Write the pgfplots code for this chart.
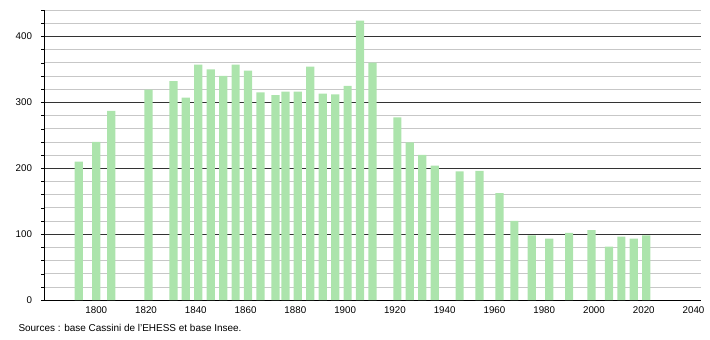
\documentclass[border=0pt]{standalone}
\usepackage{pgfplots}
\pgfplotsset{compat=1.18}
\usepackage{fontspec}
\setmainfont{Liberation Sans}
\definecolor{barg}{RGB}{172,228,172}
\begin{document}
\begin{tikzpicture}
\useasboundingbox (0,0) rectangle (710bp,340bp);
\begin{axis}[
  at={(44bp,40bp)}, anchor=south west,
  width=657bp, height=290bp, scale only axis,
  xmin=1779, xmax=2043, ymin=0, ymax=440,
  axis lines=left, axis line style={-, black},
  xtick={1800,1820,...,2040},
  ytick={0,100,...,400},
  minor ytick={20,40,...,440},
  xtick style={draw=none},
  ytick style={black},
  minor tick style={black},
  tick align=outside,
  major tick length=2.5bp, minor tick length=2.5bp,
  ymajorgrids, yminorgrids,
  major grid style={black!80, line width=0.5pt},
  minor grid style={black!22, line width=0.5pt},
  tick label style={font=\fontsize{9.8}{11}\selectfont},
  /pgf/number format/assume math mode=true,
  /pgf/number format/1000 sep={},
  xticklabel style={yshift=-0.5bp},
  yticklabel style={xshift=-6bp},
  ybar, bar width=3.3, bar shift=0pt,
  clip=false,
]
\addplot[fill=barg, draw=none] coordinates {
(1793,210) (1800,240) (1806,287) (1821,319) (1831,332) (1836,307)
(1841,357) (1846,350) (1851,340) (1856,357) (1861,348) (1866,315)
(1872,311) (1876,316) (1881,316) (1886,354) (1891,313) (1896,312)
(1901,325) (1906,424) (1911,360) (1921,277) (1926,239) (1931,220)
(1936,204) (1946,195) (1954,196) (1962,162) (1968,120) (1975,98)
(1982,93) (1990,102) (1999,106) (2006,81) (2011,96) (2016,93) (2021,98)
};
\end{axis}
\node[anchor=west, font=\fontsize{10}{11}\selectfont] at (15bp,12bp) {Sources : base Cassini de l'EHESS et base Insee.};
\end{tikzpicture}
\end{document}
